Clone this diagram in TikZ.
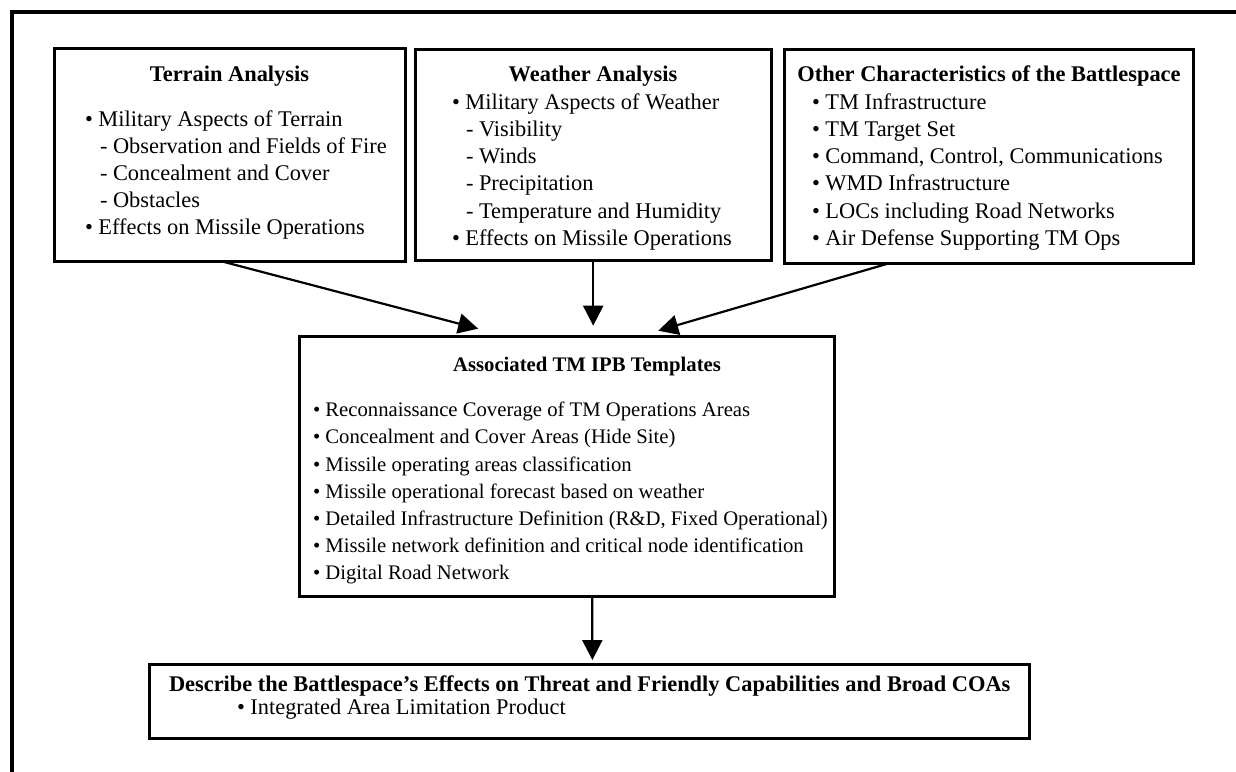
\documentclass[tikz,border=0pt]{standalone}
\usepackage{fontspec}
\setmainfont{Liberation Serif}
\usetikzlibrary{arrows.meta}
\begin{document}
\begin{tikzpicture}[x=1pt,y=-1pt,
  box/.style={draw, line width=3pt, inner sep=0pt, outer sep=0pt},
  ttl/.style={font=\fontsize{22.4}{27.2}\selectfont\bfseries, inner sep=0pt, outer sep=0pt, anchor=base},
  body/.style={font=\fontsize{22.4}{27.2}\selectfont, inner sep=0pt, outer sep=0pt, anchor=north west, align=left},
  smallbody/.style={body, font=\fontsize{20.7}{27.2}\selectfont},
  arr/.style={line width=2.2pt, -{Triangle[length=20pt,width=20pt]}}]
\clip (0,0) rectangle (1236,771);
\fill[white] (0,0) rectangle (1236,771);
% outer frame (cut off at right and bottom)
\draw[line width=4pt] (1245,11.7) -- (11.7,11.7) -- (11.7,780);

% boxes
\node[box, minimum width=351.4pt, minimum height=213.4pt] (terrain) at (230,155) {};
\node[box, minimum width=356.3pt, minimum height=211.7pt] (weather) at (593.2,154.9) {};
\node[box, minimum width=409.4pt, minimum height=214pt] (other) at (989,156) {};
\node[box, minimum width=535pt, minimum height=259.4pt] (center) at (567.2,466.4) {};
\node[box, minimum width=879.3pt, minimum height=74.7pt] (bottom) at (589.4,701.4) {};

% titles
\node[ttl] (terrainT) at (229.5,81.7) {Terrain Analysis};
\node[ttl] (weatherT) at (593,81) {Weather Analysis};
\node[ttl] (otherT) at (989,81.7) {Other Characteristics of the Battlespace};
\node[ttl, font=\fontsize{20.7}{27.2}\selectfont\bfseries] (centerT) at (587,371.7) {Associated TM IPB Templates};
\node[ttl, anchor=base west] (bottomT) at (169,691.3) {Describe the Battlespace’s Effects on Threat and Friendly Capabilities and Broad COAs};

% bodies
\node[body] (terrainB) at (85,106.96) {\strut• Military Aspects of Terrain\\
\strut\hspace*{15pt}- Observation and Fields of Fire\\
\strut\hspace*{15pt}- Concealment and Cover\\
\strut\hspace*{15pt}- Obstacles\\
\strut• Effects on Missile Operations};

\node[body] (weatherB) at (452,90.26) {\strut• Military Aspects of Weather\\
\strut\hspace*{14pt}- Visibility\\
\strut\hspace*{14pt}- Winds\\
\strut\hspace*{14pt}- Precipitation\\
\strut\hspace*{14pt}- Temperature and Humidity\\
\strut• Effects on Missile Operations};

\node[body] (otherB) at (812,90.26) {\strut• TM Infrastructure\\
\strut• TM Target Set\\
\strut• Command, Control, Communications\\
\strut• WMD Infrastructure\\
\strut• LOCs including Road Networks\\
\strut• Air Defense Supporting TM Ops};

\node[smallbody] (centerB) at (313,397.66) {\strut• Reconnaissance Coverage of TM Operations Areas\\
\strut• Concealment and Cover Areas (Hide Site)\\
\strut• Missile operating areas classification\\
\strut• Missile operational forecast based on weather\\
\strut• Detailed Infrastructure Definition (R\&D, Fixed Operational)\\
\strut• Missile network definition and critical node identification\\
\strut• Digital Road Network};

\node[body, anchor=base west] (bottomB) at (237,714.7) {• Integrated Area Limitation Product};

% connectors
\draw[arr] ([xshift=-7pt]terrain.south) -- ([xshift=-89pt,yshift=8pt]center.north);
\draw[arr] (weather.south) -- ([xshift=26pt,yshift=11pt]center.north);
\draw[arr] ([xshift=-99pt]other.south) -- ([xshift=91pt,yshift=6pt]center.north);
\draw[arr] ([xshift=25pt]center.south) -- ([xshift=3pt,yshift=4pt]bottom.north);
\end{tikzpicture}
\end{document}
